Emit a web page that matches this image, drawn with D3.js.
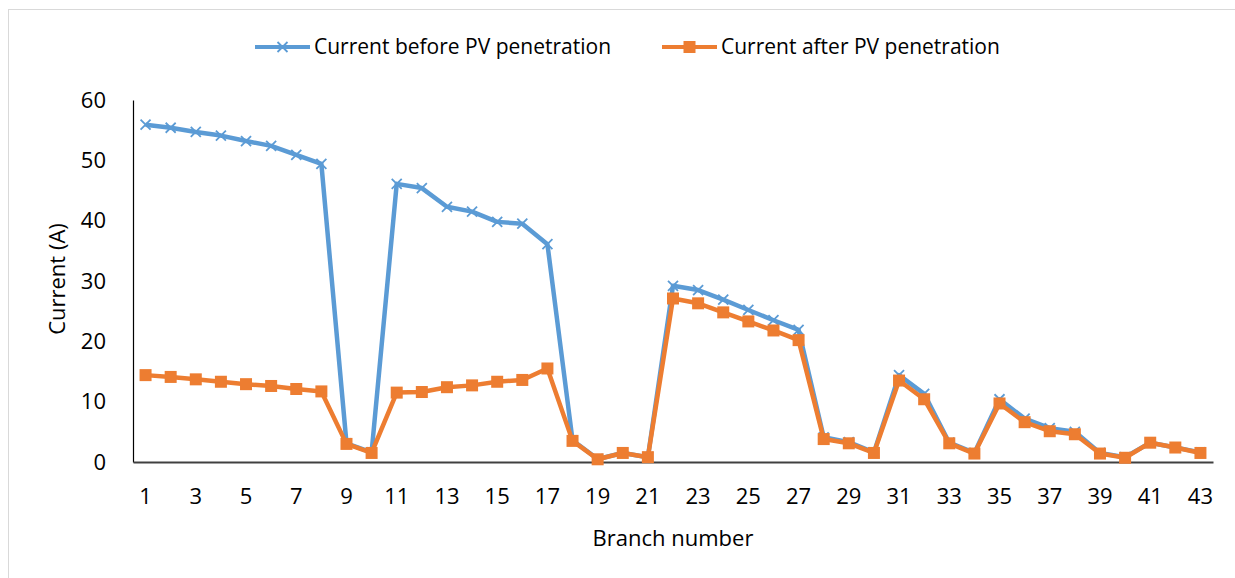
<!DOCTYPE html>
<html>
<head>
<meta charset="utf-8">
<script src="https://cdn.jsdelivr.net/npm/d3@7"></script>
<style>
  body { margin: 0; background: #fff; }
  svg text { font-family: "Open Sans", "Liberation Sans", sans-serif; fill: #000; }
</style>
</head>
<body>
<svg id="chart" width="1235" height="578"></svg>
<script>
// branch numbers 1..43
const branches = [1,2,3,4,5,6,7,8,9,10,11,12,13,14,15,16,17,18,19,20,21,22,23,24,25,26,27,28,29,30,31,32,33,34,35,36,37,38,39,40,41,42,43];
const currentBefore = [55.9,55.4,54.7,54.1,53.2,52.4,50.9,49.4,3.1,1.6,46.1,45.4,42.3,41.5,39.8,39.5,36.1,3.6,0.5,1.5,0.8,29.2,28.5,26.9,25.2,23.5,21.9,4.1,3.3,1.6,14.4,11.3,3.2,1.5,10.4,7.2,5.6,5.0,1.5,0.8,3.2,2.4,1.6];
const currentAfter  = [14.4,14.1,13.7,13.3,12.9,12.6,12.1,11.7,3.0,1.5,11.5,11.6,12.4,12.7,13.3,13.6,15.5,3.5,0.45,1.5,0.8,27.1,26.3,24.8,23.3,21.8,20.2,3.8,3.1,1.5,13.5,10.4,3.1,1.4,9.7,6.6,5.1,4.6,1.4,0.7,3.2,2.4,1.5];
const yTicks = [0,10,20,30,40,50,60];
const seriesNames = ["Current before PV penetration", "Current after PV penetration"];

const BLUE = "#5B9BD5", ORANGE = "#ED7D31";
const m = { top: 100, right: 22, bottom: 116, left: 133 };
const W = 1235, H = 578;
const w = W - m.left - m.right, h = H - m.top - m.bottom;

const svg = d3.select("#chart");

// outer frame
svg.append("rect")
    .attr("x", 8.5).attr("y", 9.5)
    .attr("width", 1300).attr("height", 700)
    .attr("fill", "none").attr("stroke", "#d9d9d9");

const g = svg.append("g").attr("transform", `translate(${m.left},${m.top})`);

const x = d3.scaleBand().domain(branches).range([0, w]);
const y = d3.scaleLinear().domain([0, 60]).range([h, 0]);
const cx = d => x(d) + x.bandwidth() / 2;

// axes
const yAxis = g.append("g").call(d3.axisLeft(y).tickValues(yTicks).tickSize(0).tickPadding(27));
yAxis.select(".domain").attr("stroke", "#000").attr("stroke-width", 1.2);
yAxis.selectAll("text").attr("font-size", 22);

const xAxis = g.append("g").attr("transform", `translate(0,${h})`)
    .call(d3.axisBottom(x).tickValues(branches.filter(b => b % 2 === 1)).tickSize(0).tickPadding(26));
xAxis.select(".domain").attr("stroke", "#404040").attr("stroke-width", 2.2);
xAxis.selectAll("text").attr("font-size", 22);

// axis titles
g.append("text")
    .attr("transform", `translate(${57 - m.left},${h / 2 - 2}) rotate(-90)`)
    .attr("text-anchor", "middle").attr("dy", "0.35em")
    .attr("font-size", 22).text("Current (A)");
g.append("text")
    .attr("x", w / 2).attr("y", h + 84)
    .attr("text-anchor", "middle")
    .attr("font-size", 22).text("Branch number");

const line = d3.line().x((d, i) => cx(branches[i])).y(d => y(d));

// before (blue, x markers)
g.append("path").datum(currentBefore)
    .attr("d", line).attr("fill", "none")
    .attr("stroke", BLUE).attr("stroke-width", 4.5).attr("stroke-linejoin", "round");
const xMark = (px, py, s) => `M${px - s},${py - s}L${px + s},${py + s}M${px - s},${py + s}L${px + s},${py - s}`;
g.append("g").selectAll("path")
    .data(currentBefore)
    .join("path")
    .attr("d", (d, i) => xMark(cx(branches[i]), y(d), 5))
    .attr("stroke", BLUE).attr("stroke-width", 1.8).attr("fill", "none");

// after (orange, square markers)
g.append("path").datum(currentAfter)
    .attr("d", line).attr("fill", "none")
    .attr("stroke", ORANGE).attr("stroke-width", 4.5).attr("stroke-linejoin", "round");
g.append("g").selectAll("rect")
    .data(currentAfter)
    .join("rect")
    .attr("x", (d, i) => cx(branches[i]) - 6)
    .attr("y", d => y(d) - 6)
    .attr("width", 12).attr("height", 12)
    .attr("fill", ORANGE);

// legend
const legend = svg.append("g").attr("transform", "translate(0,47)");
const legItems = [
    { name: seriesNames[0], color: BLUE, x0: 255, marker: "x" },
    { name: seriesNames[1], color: ORANGE, x0: 662, marker: "sq" }
];
legItems.forEach(it => {
    legend.append("line")
        .attr("x1", it.x0).attr("x2", it.x0 + 55)
        .attr("y1", 0).attr("y2", 0)
        .attr("stroke", it.color).attr("stroke-width", 4);
    const mx = it.x0 + 27.5;
    if (it.marker === "x") {
        legend.append("path").attr("d", xMark(mx, 0, 5))
            .attr("stroke", it.color).attr("stroke-width", 1.8);
    } else {
        legend.append("rect").attr("x", mx - 6).attr("y", -6)
            .attr("width", 12).attr("height", 12).attr("fill", it.color);
    }
    legend.append("text")
        .attr("x", it.x0 + 59).attr("y", 0).attr("dy", "0.35em")
        .attr("font-size", 21).text(it.name);
});
</script>
</body>
</html>
